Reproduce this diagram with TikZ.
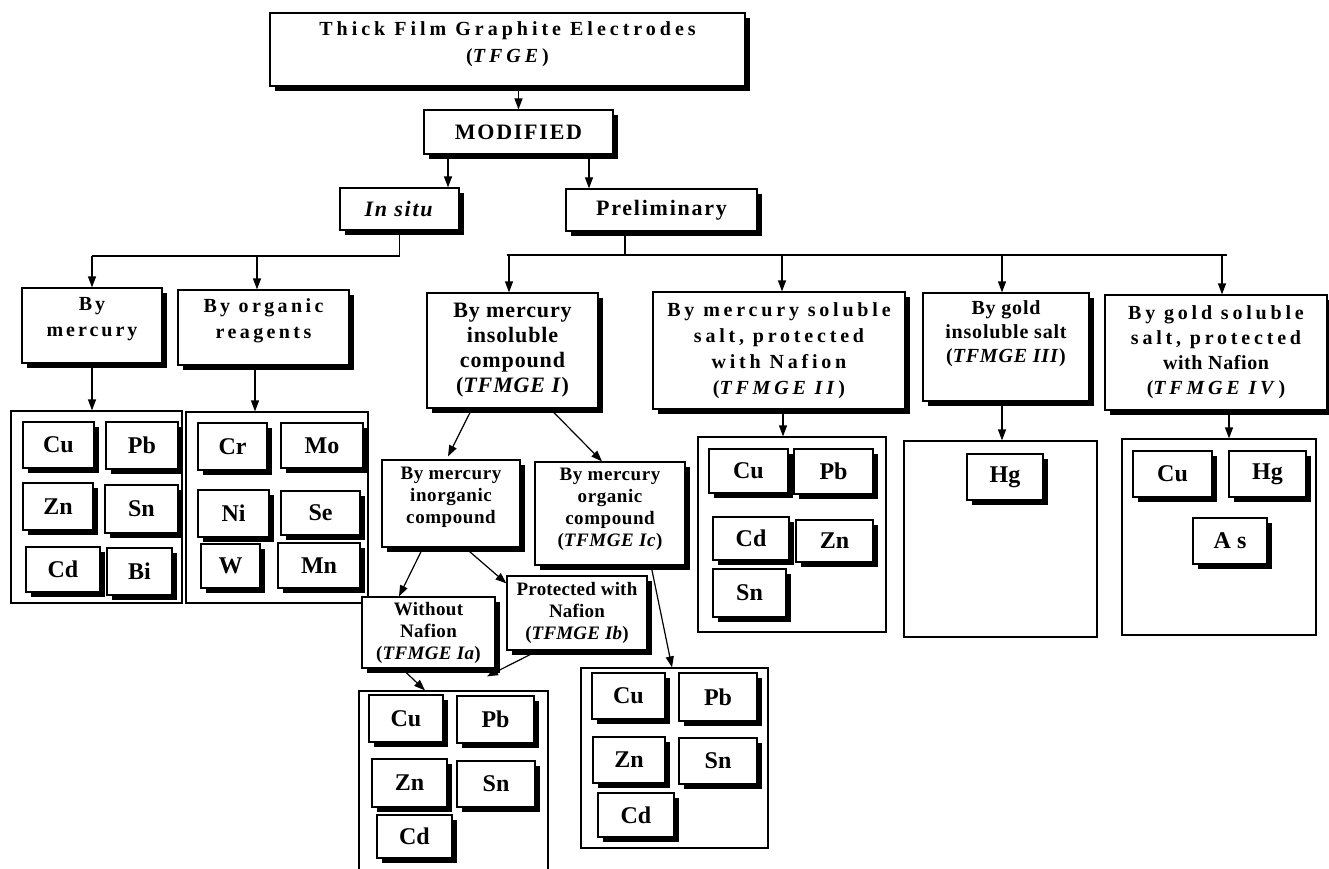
\documentclass[tikz,border=0pt]{standalone}
\usepackage{fontspec}
\setmainfont{Liberation Serif}
\usetikzlibrary{arrows.meta,shadows}
\newcommand\lsp[1]{\addfontfeature{LetterSpace=#1}}

\begin{document}
\begin{tikzpicture}[x=1pt, y=-1pt, line width=1.2pt,
  box/.style={draw, fill=white, inner sep=0pt, align=center,
    drop shadow={shadow xshift=5pt, shadow yshift=-5pt, opacity=1, fill=black}},
  cont/.style={draw, inner sep=0pt},
  elem/.style={box, font=\fontsize{24}{26}\selectfont\bfseries},
  arr/.style={-{Triangle[length=11pt,width=8pt]}}]
\useasboundingbox (0,0) rectangle (1329,869);

% groups of electrodes
\node[cont, minimum width=171pt, minimum height=192pt] (cont1) at (96.5,507) {};
\node[cont, minimum width=182pt, minimum height=191pt] (cont2) at (277,507.5) {};
\node[cont, minimum width=189pt, minimum height=209pt] (cont3) at (453.5,795.5) {};
\node[cont, minimum width=187pt, minimum height=180pt] (cont4) at (674.5,758) {};
\node[cont, minimum width=188pt, minimum height=195pt] (cont5) at (792,534.5) {};
\node[cont, minimum width=193pt, minimum height=196pt] (cont6) at (1000.5,539) {};
\node[cont, minimum width=194pt, minimum height=196pt] (cont7) at (1219,537) {};

\foreach \n/\x/\y/\w/\h/\t in {
  ga/58.5/445/71/46/Cu, gb/142/445.5/72/47/Pb, gc/58/506.5/70/47/Zn,
  gd/141.5/509/73/48/Sn, ge/63/569.5/74/45/Cd, gf/139.5/571.5/65/47/Bi,
  ha/232.5/446.5/69/47/Cr, hb/322/445.5/82/45/Mo, hc/233.5/513.5/71/47/Ni,
  hd/320.5/513/79/44/Se, he/230.5/566/59/44/W, hf/319/565.5/82/45/Mn,
  ia/406/718.5/74/47/Cu, ib/495.5/719.5/77/47/Pb, ic/409.5/783/75/48/Zn,
  id/496/784/78/46/Sn, ie/414.5/836.5/75/43/Cd,
  ja/628.5/696/73/46/Cu, jb/718/697/78/48/Pb, jc/629/760/72/46/Zn,
  jd/718/761/78/46/Sn, je/636/815/76/44/Cd,
  ka/748.5/471/79/44/Cu, kb/833.5/471.5/79/45/Pb, kc/751/538.5/76/43/Cd,
  kd/834.5/541/77/42/Zn, ke/749.5/593/73/48/Sn,
  la/1005/477/76/46/Hg,
  ma/1172.5/474/79/46/Cu, mb/1267.5/474/77/46/Hg, mc/1230/541/74/46/A s}
  \node[elem, minimum width=\w pt, minimum height=\h pt] (\n) at (\x,\y) {\t};

% upper boxes
\node[box, minimum width=475pt, minimum height=73pt, text depth=14pt,
  font=\fontsize{20}{27}\selectfont\bfseries\lsp{20}] (top) at (507.5,49.5)
  {Thick Film Graphite Electrodes\\(\textit{TFGE})};
\node[box, minimum width=189pt, minimum height=44pt,
  font=\fontsize{22}{24}\selectfont\bfseries\lsp{8}] (mod) at (518.5,132) {MODIFIED};
\node[box, minimum width=119pt, minimum height=42pt,
  font=\fontsize{22}{24}\selectfont\bfseries\lsp{8}] (insitu) at (399.5,209) {\textit{In situ}};
\node[box, minimum width=191pt, minimum height=42pt,
  font=\fontsize{22}{24}\selectfont\bfseries\lsp{8}] (prelim) at (661.5,210) {Preliminary};

\node[box, minimum width=140pt, minimum height=75pt, text depth=18pt,
  font=\fontsize{20}{26}\selectfont\bfseries\lsp{15}] (bymerc) at (92,325.5) {By\\mercury};
\node[box, minimum width=171pt, minimum height=75pt, text depth=18pt,
  font=\fontsize{20}{26}\selectfont\bfseries\lsp{17}] (byorg) at (263.5,327.5) {By organic\\reagents};

\node[box, minimum width=171pt, minimum height=115pt,
  font=\fontsize{22}{25}\selectfont\bfseries\lsp{4}] (tfmge1) at (512.5,350.5)
  {By mercury\\insoluble\\compound\\(\textit{TFMGE I})};
\node[box, minimum width=138pt, minimum height=87pt, text depth=17pt,
  font=\fontsize{19}{22}\selectfont\bfseries\lsp{3}] (inorg) at (451,503.5)
  {By mercury\\inorganic\\compound};
\node[box, minimum width=150pt, minimum height=103pt, text depth=13pt,
  font=\fontsize{19}{22}\selectfont\bfseries\lsp{3}] (orgc) at (610,513.5)
  {By mercury\\organic\\compound\\(\textit{TFMGE Ic})};
\node[box, minimum width=133pt, minimum height=71pt,
  font=\fontsize{19}{22}\selectfont\bfseries\lsp{2}] (withoutn) at (428.5,632.5)
  {Without\\Nafion\\(\textit{TFMGE Ia})};
\node[box, minimum width=140pt, minimum height=74pt,
  font=\fontsize{19}{22}\selectfont\bfseries\lsp{1}] (protn) at (577,613)
  {Protected with\\Nafion\\(\textit{TFMGE Ib})};

\node[box, minimum width=252pt, minimum height=117pt,
  font=\fontsize{20}{26}\selectfont\bfseries\lsp{19}] (tfmge2) at (779,350.5)
  {By mercury soluble\\salt, protected\\with Nafion\\(\textit{TFMGE II})};
\node[box, minimum width=166pt, minimum height=108pt, text depth=30pt,
  font=\fontsize{20}{24}\selectfont\bfseries\lsp{4}] (tfmge3) at (1006,347)
  {By gold\\insoluble salt\\(\textit{TFMGE III})};
\node[box, minimum width=222pt, minimum height=115pt,
  font=\fontsize{20}{25}\selectfont\bfseries\lsp{19}] (tfmge4) at (1216,352.5)
  {By gold soluble\\salt, protected\\{\lsp{3}with Nafion}\\(\textit{TFMGE IV})};

% connectors
\draw[arr] (top.south -| mod.north) -- (mod.north);
\draw[arr] ([xshift=-70.5pt]mod.south) -- ([xshift=-70.5pt]mod.south |- insitu.north);
\draw[arr] ([xshift=70.5pt]mod.south) -- ([xshift=70.5pt]mod.south |- prelim.north);

\coordinate (jl) at (399.5,256);
\draw (insitu.south) -- (jl) -- (jl -| bymerc.north);
\draw[arr] (jl -| bymerc.north) -- (bymerc.north);
\draw[arr] ([xshift=-6.5pt]byorg.north |- jl) -- ([xshift=-6.5pt]byorg.north);

\coordinate (jr) at (625,255);
\coordinate (jra) at (507,255);
\coordinate (jrb) at (1227,255);
\draw ([xshift=-36.5pt]prelim.south) -- (jr);
\draw (jra) -- (jrb);
\draw[arr] ([xshift=-3.5pt]tfmge1.north |- jr) -- ([xshift=-3.5pt]tfmge1.north);
\draw[arr] ([xshift=3pt]tfmge2.north |- jr) -- ([xshift=3pt]tfmge2.north);
\draw[arr] ([xshift=-4pt]tfmge3.north |- jr) -- ([xshift=-4pt]tfmge3.north);
\draw[arr] ([xshift=6pt]tfmge4.north |- jr) -- ([xshift=6pt]tfmge4.north);

\draw[arr] (bymerc.south) -- (bymerc.south |- cont1.north);
\draw[arr] ([xshift=-8.5pt]byorg.south) -- ([xshift=-8.5pt]byorg.south |- cont2.north);
\draw[arr] ([xshift=-40.5pt]tfmge1.south) -- ([xshift=-3pt,yshift=3pt]inorg.north);
\draw[arr] ([xshift=37.5pt]tfmge1.south) -- ([xshift=-8pt]orgc.north);
\draw[arr] ([xshift=-28pt]inorg.south) -- ([xshift=-29.5pt]withoutn.north);
\draw[arr] ([xshift=14pt]inorg.south) -- ([yshift=-8pt]protn.north west);
\draw[arr] ([xshift=41pt]orgc.south) -- ([xshift=-2.5pt]cont4.north);
\draw[arr] ([xshift=-26.5pt]withoutn.south) -- ([xshift=-28.5pt]cont3.north);
\draw[arr] ([xshift=-39pt]protn.south) -- ([xshift=33.5pt,yshift=14pt]cont3.north);
\draw[arr] ([xshift=4pt]tfmge2.south) -- ([xshift=4pt]tfmge2.south |- cont5.north);
\draw[arr] ([xshift=-4pt]tfmge3.south) -- ([xshift=-4pt]tfmge3.south |- cont6.north);
\draw[arr] ([xshift=13pt]tfmge4.south) -- ([xshift=13pt]tfmge4.south |- cont7.north);
\end{tikzpicture}
\end{document}
